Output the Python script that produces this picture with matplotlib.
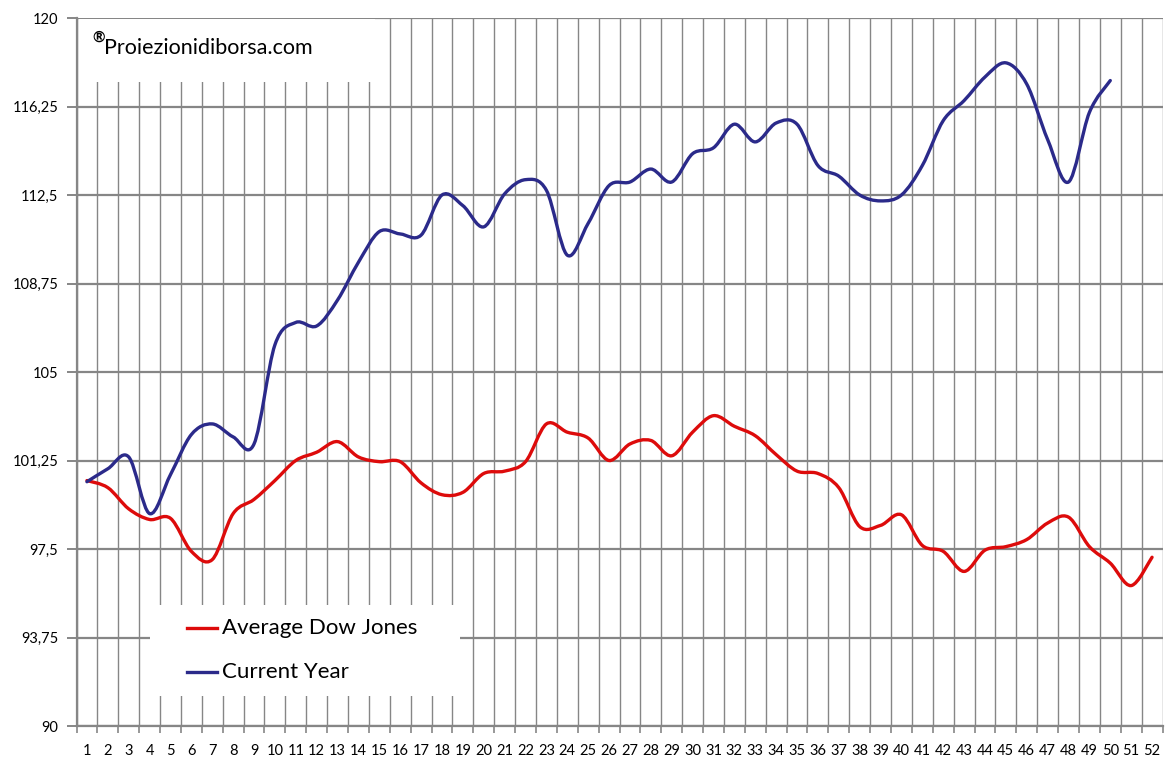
import matplotlib
matplotlib.use("Agg")
import matplotlib.pyplot as plt
from matplotlib.path import Path
from matplotlib.patches import PathPatch, Rectangle
from matplotlib.lines import Line2D

weeks = list(range(1, 53))
avg_dow = [100.4, 100.1, 99.2, 98.75, 98.8, 97.4, 97.05, 99.0, 99.6, 100.4,
           101.25, 101.6, 102.05, 101.4, 101.2, 101.2, 100.3, 99.8, 99.9, 100.7,
           100.8, 101.2, 102.8, 102.45, 102.2, 101.25, 101.95, 102.1, 101.45, 102.45,
           103.15, 102.7, 102.3, 101.5, 100.8, 100.7, 100.1, 98.45, 98.5, 98.95,
           97.65, 97.4, 96.55, 97.45, 97.6, 97.9, 98.6, 98.85, 97.6, 96.9,
           95.95, 97.15]
current_year = [100.35, 100.9, 101.4, 99.0, 100.65, 102.35, 102.8, 102.25, 101.95, 106.15,
                107.1, 106.95, 108.05, 109.65, 110.95, 110.85, 110.8, 112.5, 112.05, 111.15,
                112.55, 113.15, 112.7, 109.95, 111.3, 112.9, 113.05, 113.6, 113.05, 114.25,
                114.5, 115.5, 114.75, 115.55, 115.5, 113.75, 113.3, 112.5, 112.25, 112.5,
                113.75, 115.65, 116.5, 117.5, 118.1, 117.2, 114.85, 113.05, 116.0, 117.35]
y_ticks = [90, 93.75, 97.5, 101.25, 105, 108.75, 112.5, 116.25, 120]
y_labels = ["90", "93,75", "97,5", "101,25", "105", "108,75", "112,5", "116,25", "120"]
series_names = ["Average Dow Jones", "Current Year"]
watermark = "Proiezionidiborsa.com"

RED = "#DD0B0B"
BLUE = "#2B2A8A"
GRID = "#868686"
FONT = ["Lato", "DejaVu Sans"]


def smooth_path(xs, ys):
    # Excel-style smoothed line: cubic Bezier segments through every point
    pts = list(zip(xs, ys))
    n = len(pts)
    verts = [pts[0]]
    codes = [Path.MOVETO]
    for i in range(n - 1):
        p0 = pts[i - 1] if i > 0 else pts[i]
        p1 = pts[i]
        p2 = pts[i + 1]
        p3 = pts[i + 2] if i + 2 < n else pts[i + 1]
        c1 = (p1[0] + (p2[0] - p0[0]) / 6.0, p1[1] + (p2[1] - p0[1]) / 6.0)
        c2 = (p2[0] - (p3[0] - p1[0]) / 6.0, p2[1] - (p3[1] - p1[1]) / 6.0)
        verts += [c1, c2, p2]
        codes += [Path.CURVE4] * 3
    return Path(verts, codes)


fig = plt.figure(figsize=(11.65, 7.59), dpi=100)
ax = fig.add_axes([76.5 / 1165, 1 - 726 / 759, 1086 / 1165, 708 / 759])

ax.set_xlim(0.5, 52.5)
ax.set_ylim(90, 120)

ax.set_yticks(y_ticks)
ax.set_yticklabels(y_labels, fontfamily=FONT, fontsize=10.5)
ax.set_xticks(weeks)
ax.set_xticklabels([str(w) for w in weeks], fontfamily=FONT, fontsize=10.5)
ax.set_xticks([w + 0.5 for w in range(0, 53)], minor=True)

ax.tick_params(axis="x", which="major", length=0, pad=13)
ax.tick_params(axis="x", which="minor", length=5, width=1.2, color=GRID, direction="out")
ax.tick_params(axis="y", which="major", length=7, width=1.4, color=GRID, direction="out", pad=6)

ax.grid(True, axis="y", which="major", color=GRID, linewidth=1.6, zorder=1)
ax.grid(True, axis="x", which="minor", color=GRID, linewidth=1.0, zorder=1)
ax.grid(False, axis="x", which="major")
ax.set_axisbelow(True)

for side in ["left", "bottom"]:
    ax.spines[side].set_color(GRID)
    ax.spines[side].set_linewidth(1.6)
for side in ["top", "right"]:
    ax.spines[side].set_visible(False)

# white boxes (watermark and legend areas) hiding the grid
ax.add_patch(Rectangle((0.002, 0.9096), 0.273, 0.0885, transform=ax.transAxes,
                       facecolor="white", edgecolor="none", zorder=1.5))
ax.add_patch(Rectangle((0.0677, 0.0424), 0.2854, 0.1285, transform=ax.transAxes,
                       facecolor="white", edgecolor="none", zorder=1.5))

ax.add_patch(PathPatch(smooth_path(weeks, avg_dow), facecolor="none", edgecolor=RED,
                       linewidth=2.4, zorder=3, capstyle="round", joinstyle="round"))
ax.add_patch(PathPatch(smooth_path(weeks[:len(current_year)], current_year), facecolor="none",
                       edgecolor=BLUE, linewidth=2.4, zorder=3, capstyle="round", joinstyle="round"))

fig.text(92 / 1165, 1 - 38 / 759, "\u00ae", fontfamily=FONT, fontsize=11, fontweight="bold",
         va="center", ha="left")
fig.text(104 / 1165, 1 - 48 / 759, watermark, fontfamily=FONT, fontsize=15.5,
         va="center", ha="left")

# legend drawn manually to match the box layout
for color, name, ypix in zip([RED, BLUE], series_names, [628, 672]):
    yf = 1 - ypix / 759
    fig.add_artist(Line2D([187 / 1165, 217 / 1165], [yf, yf], color=color, linewidth=2.4,
                          transform=fig.transFigure, zorder=5))
    fig.text(222 / 1165, yf, name, fontfamily=FONT, fontsize=16, va="center", ha="left",
             zorder=5)

fig.savefig("out.png", dpi=100, facecolor="white")
